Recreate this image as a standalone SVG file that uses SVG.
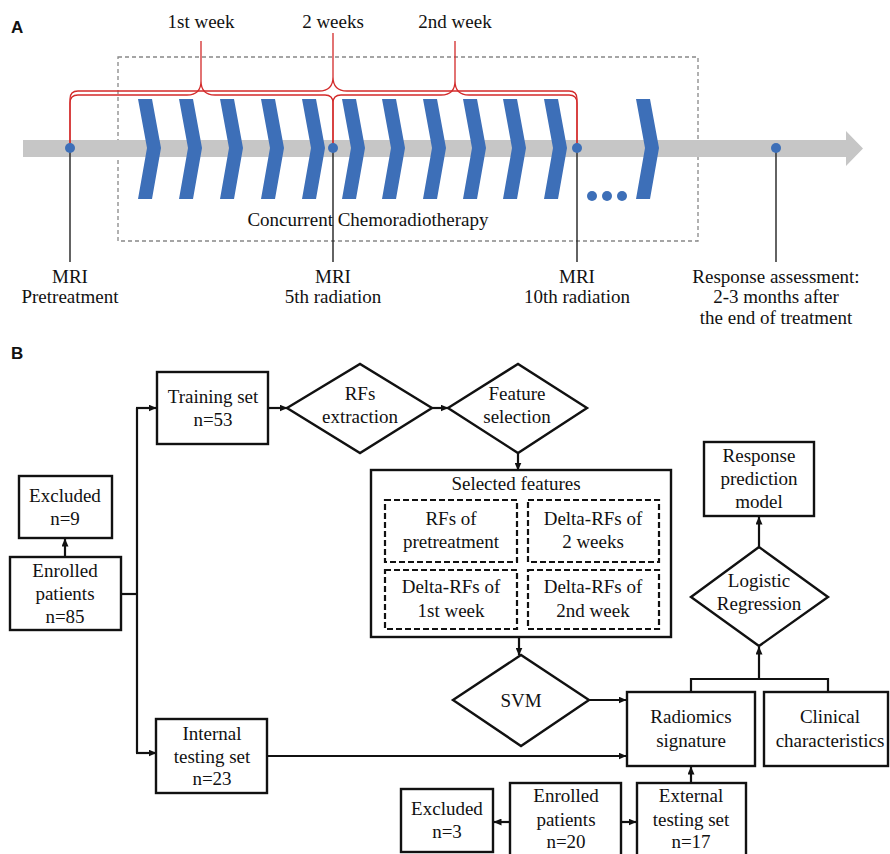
<svg xmlns="http://www.w3.org/2000/svg" width="890" height="854" viewBox="0 0 890 854">
<style>
.t{font-family:"Liberation Serif","Times New Roman",serif;font-size:19px;fill:#111;text-anchor:middle}
.lbl{font-family:"Liberation Sans",Arial,sans-serif;font-size:17px;font-weight:bold;fill:#111}
.box{fill:#fff;stroke:#111;stroke-width:2.4}
.dbox{fill:none;stroke:#111;stroke-width:2.2;stroke-dasharray:6,3}
.con{fill:none;stroke:#111;stroke-width:2.2}
.brace{fill:none;stroke:#d32a2a;stroke-width:1.3}
.chev{fill:#3d6fb8}
.dot{fill:#3d6fb8}
.tick{stroke:#222;stroke-width:1.4}
</style>
<defs>
<marker id="ah" markerWidth="8" markerHeight="7" refX="7.5" refY="3.5" orient="auto" markerUnits="userSpaceOnUse">
<path d="M0,0 L8,3.5 L0,7 z" fill="#111"/>
</marker>
<polygon id="chv" points="0,0 14,0 23,49 14,100 0,100 9,49"/>
</defs>

<!-- Panel A -->
<text class="lbl" x="11" y="33">A</text>
<rect x="118" y="57" width="580" height="184" fill="none" stroke="#888" stroke-width="1.3" stroke-dasharray="4,3"/>
<polygon points="23,140 846,140 846,131 863,148.5 846,166 846,157 23,157" fill="#c6c6c6"/>
<g id="chevrons" class="chev">
<use href="#chv" x="138" y="99"/>
<use href="#chv" x="179" y="99"/>
<use href="#chv" x="220" y="99"/>
<use href="#chv" x="261" y="99"/>
<use href="#chv" x="302" y="99"/>
<use href="#chv" x="342" y="99"/>
<use href="#chv" x="382" y="99"/>
<use href="#chv" x="423" y="99"/>
<use href="#chv" x="463" y="99"/>
<use href="#chv" x="503" y="99"/>
<use href="#chv" x="544" y="99"/>
<use href="#chv" x="636" y="99"/>
</g>
<g id="ellipsis" class="dot">
<circle cx="592" cy="196" r="5"/>
<circle cx="607" cy="196" r="5"/>
<circle cx="622" cy="196" r="5"/>
</g>
<g id="braces">
<path class="brace" d="M70,148 L70,103 Q70,95 78,95 L187,95 Q201,95 201,81 L201,41 M201,81 Q201,95 215,95 L325,95 Q333,95 333,103 L333,148"/>
<path class="brace" d="M70,148 L70,99 Q70,91 78,91 L319,91 Q333,91 333,77 L333,33 M333,77 Q333,91 347,91 L569,91 Q577,91 577,99 L577,148"/>
<path class="brace" d="M333,148 L333,103 Q333,95 341,95 L441,95 Q455,95 455,81 L455,41 M455,81 Q455,95 469,95 L569,95 Q577,95 577,103 L577,148"/>
</g>
<g id="ticks">
<line class="tick" x1="70" y1="148" x2="70" y2="262"/>
<line class="tick" x1="333" y1="148" x2="333" y2="262"/>
<line class="tick" x1="577" y1="148" x2="577" y2="262"/>
<line class="tick" x1="776" y1="148" x2="776" y2="262"/>
</g>
<g id="timepoints" class="dot">
<circle cx="70" cy="148" r="5"/>
<circle cx="333" cy="148" r="5"/>
<circle cx="577" cy="148" r="5"/>
<circle cx="776" cy="148" r="5"/>
</g>
<text class="t" x="201" y="28">1st week</text>
<text class="t" x="333" y="28">2 weeks</text>
<text class="t" x="455" y="28">2nd week</text>
<text class="t" x="368" y="226">Concurrent Chemoradiotherapy</text>
<g id="mri-pre"><text class="t" x="70" y="283">MRI</text><text class="t" x="70" y="303">Pretreatment</text></g>
<g id="mri-5"><text class="t" x="333" y="283">MRI</text><text class="t" x="333" y="303">5th radiation</text></g>
<g id="mri-10"><text class="t" x="577" y="283">MRI</text><text class="t" x="577" y="303">10th radiation</text></g>
<g id="response"><text class="t" x="776" y="283">Response assessment:</text><text class="t" x="776" y="303">2-3 months after</text><text class="t" x="776" y="324">the end of treatment</text></g>

<!-- Panel B -->
<text class="lbl" x="11" y="359">B</text>
<g id="connectors">
<path class="con" d="M65,557 L65,539" marker-end="url(#ah)"/>
<path class="con" d="M121,594 L137,594"/>
<path class="con" d="M137,408 L137,753"/>
<path class="con" d="M136,408 L156,408" marker-end="url(#ah)"/>
<path class="con" d="M136,753 L156,753" marker-end="url(#ah)"/>
<path class="con" d="M268,408 L287,408" marker-end="url(#ah)"/>
<path class="con" d="M432,408 L448,408" marker-end="url(#ah)"/>
<path class="con" d="M518,453 L518,470" marker-end="url(#ah)"/>
<path class="con" d="M519,637 L519,655" marker-end="url(#ah)"/>
<path class="con" d="M589,700 L626,700" marker-end="url(#ah)"/>
<path class="con" d="M267,756 L626,756" marker-end="url(#ah)"/>
<path class="con" d="M691,783 L691,767" marker-end="url(#ah)"/>
<path class="con" d="M510,822 L494,822" marker-end="url(#ah)"/>
<path class="con" d="M621,822 L636,822" marker-end="url(#ah)"/>
<path class="con" d="M691,692 L691,679 L828,679 L828,692"/>
<path class="con" d="M759,679 L759,647" marker-end="url(#ah)"/>
<path class="con" d="M759,547 L759,517" marker-end="url(#ah)"/>
</g>
<g id="excluded9"><rect class="box" x="19" y="476" width="93" height="62"/><text class="t" x="65" y="502">Excluded</text><text class="t" x="65" y="525">n=9</text></g>
<g id="enrolled85"><rect class="box" x="10" y="557" width="111" height="73"/><text class="t" x="65" y="577">Enrolled</text><text class="t" x="65" y="600">patients</text><text class="t" x="65" y="623">n=85</text></g>
<g id="training"><rect class="box" x="157" y="372" width="111" height="72"/><text class="t" x="213" y="403">Training set</text><text class="t" x="213" y="426">n=53</text></g>
<g id="rfs-extraction"><polygon class="box" points="287,408 360,364 432,408 360,453"/><text class="t" x="360" y="400">RFs</text><text class="t" x="360" y="423">extraction</text></g>
<g id="feature-selection"><polygon class="box" points="448,408 518,364 587,408 518,453"/><text class="t" x="517" y="400">Feature</text><text class="t" x="517" y="423">selection</text></g>
<g id="selected-features"><rect class="box" x="371" y="470" width="300" height="167"/><text class="t" x="516" y="490">Selected features</text>
<rect class="dbox" x="385" y="500" width="132" height="62"/><text class="t" x="451" y="525">RFs of</text><text class="t" x="451" y="548">pretreatment</text>
<rect class="dbox" x="528" y="500" width="131" height="62"/><text class="t" x="593" y="525">Delta-RFs of</text><text class="t" x="593" y="548">2 weeks</text>
<rect class="dbox" x="385" y="570" width="132" height="59"/><text class="t" x="451" y="593">Delta-RFs of</text><text class="t" x="451" y="617">1st week</text>
<rect class="dbox" x="528" y="570" width="131" height="59"/><text class="t" x="593" y="593">Delta-RFs of</text><text class="t" x="593" y="617">2nd week</text></g>
<g id="svm"><polygon class="box" points="453,700 521,655 589,700 521,746"/><text class="t" x="521" y="707">SVM</text></g>
<g id="internal"><rect class="box" x="156" y="719" width="111" height="74"/><text class="t" x="212" y="740">Internal</text><text class="t" x="212" y="763">testing set</text><text class="t" x="212" y="785">n=23</text></g>
<g id="radiomics"><rect class="box" x="627" y="692" width="128" height="74"/><text class="t" x="691" y="723">Radiomics</text><text class="t" x="691" y="747">signature</text></g>
<g id="clinical"><rect class="box" x="764" y="692" width="124" height="74"/><text class="t" x="830" y="723">Clinical</text><text class="t" x="830" y="747">characteristics</text></g>
<g id="logistic"><polygon class="box" points="691,597 759,547 828,597 759,646"/><text class="t" x="759" y="587">Logistic</text><text class="t" x="759" y="610">Regression</text></g>
<g id="response-model"><rect class="box" x="704" y="442" width="110" height="74"/><text class="t" x="759" y="462">Response</text><text class="t" x="759" y="485">prediction</text><text class="t" x="759" y="508">model</text></g>
<g id="excluded3"><rect class="box" x="401" y="789" width="92" height="63"/><text class="t" x="447" y="815">Excluded</text><text class="t" x="447" y="838">n=3</text></g>
<g id="enrolled20"><rect class="box" x="510" y="783" width="111" height="75"/><text class="t" x="566" y="802">Enrolled</text><text class="t" x="566" y="826">patients</text><text class="t" x="566" y="848">n=20</text></g>
<g id="external"><rect class="box" x="637" y="783" width="109" height="75"/><text class="t" x="691" y="802">External</text><text class="t" x="691" y="826">testing set</text><text class="t" x="691" y="848">n=17</text></g>
</svg>
